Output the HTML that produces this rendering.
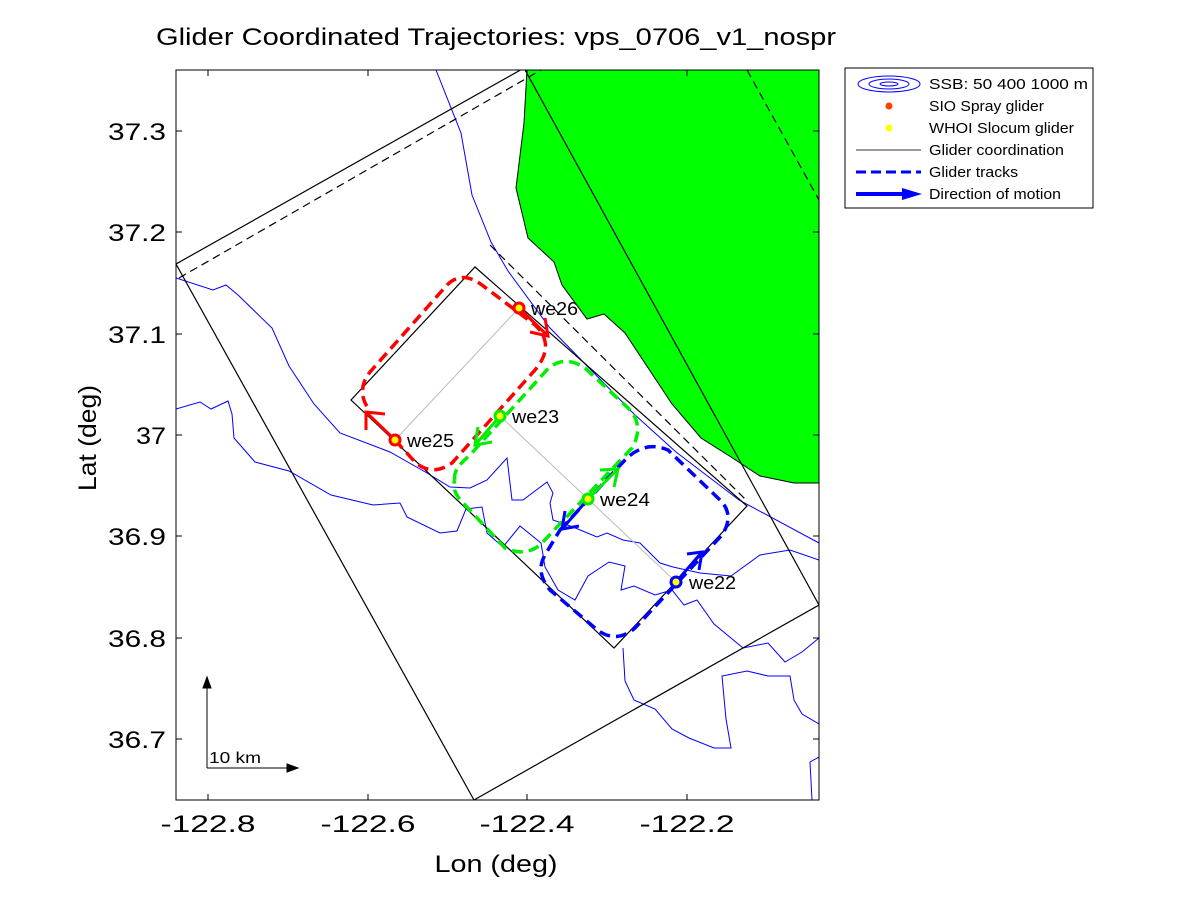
<!DOCTYPE html>
<html><head><meta charset="utf-8"><style>
body{margin:0;background:#fff;}
svg{display:block;font-family:"Liberation Sans",sans-serif;}
</style></head><body>
<svg width="1200" height="900" viewBox="0 0 1200 900" xmlns="http://www.w3.org/2000/svg">
<rect width="1200" height="900" fill="#fff"/>
<defs><clipPath id="c"><rect x="176" y="70" width="643" height="730"/></clipPath></defs>
<g clip-path="url(#c)">
<polygon fill="#00ff00" stroke="#000" stroke-width="1" points="527,70 524,123 516,188 528,238 541,250 554,262 562,285 587,319 604,314 625,333 672,404 701,438 731,457 760,476 794,483 819,483 819,70"/>
<g fill="none" stroke="#0000ff" stroke-width="1">
<polyline points="436,70 461,133 472,195 491,242 508,271 550,328 592,371 634,414 676,452 739,500 819,543"/>
<polyline points="176,278 213,290 226,285 238,295 272,328 289,366 314,404 340,433 390,452 427,473 450,487 470,488 487,480 507,458 512,500 523,500 547,482 553,493 550,503 553,520 573,527 597,537 607,533 623,540 640,543 660,563 673,567 700,573 731,576 760,555 790,550 819,560"/>
<polyline points="176,409 200,402 211,409 228,401 232,414 234,438 255,462 289,471 331,495 373,505 400,503 407,517 440,533 457,531 466,509 482,507 487,533 503,547 520,526 541,543 545,567 558,590 575,600 588,576 609,562 625,566 621,590 634,586 655,595 672,590 684,605 697,600 714,624 743,648 768,643 785,662 802,652 819,638"/>
<polyline points="623,648 625,681 634,700 655,709 672,729 689,738 714,748 731,748 726,719 722,676 747,671 768,676 790,676 794,700 802,714 819,724"/>
<polyline points="819,757 810,762 812,800"/>
</g>
<g fill="none" stroke="#000" stroke-width="1.2">
<polyline points="176,264 524,68 819,605 474,800 176,264"/>
<line x1="179" y1="278" x2="541" y2="70" stroke-dasharray="8,5"/>
<line x1="747" y1="70" x2="819" y2="200" stroke-dasharray="8,5"/>
<polygon points="351,400 475,267 747,506 614,648"/>
<line x1="490" y1="245" x2="745" y2="499" stroke-dasharray="8,5"/>
</g>
</g>
<rect x="176" y="70" width="643" height="730" fill="none" stroke="#000" stroke-width="1"/>
<g stroke="#000" stroke-width="1">
<line x1="208" y1="800" x2="208" y2="794"/><line x1="368" y1="800" x2="368" y2="794"/><line x1="527" y1="800" x2="527" y2="794"/><line x1="687" y1="800" x2="687" y2="794"/>
<line x1="208" y1="70" x2="208" y2="76"/><line x1="368" y1="70" x2="368" y2="76"/><line x1="527" y1="70" x2="527" y2="76"/><line x1="687" y1="70" x2="687" y2="76"/>
<line x1="176" y1="131" x2="182" y2="131"/><line x1="176" y1="232" x2="182" y2="232"/><line x1="176" y1="334" x2="182" y2="334"/><line x1="176" y1="435" x2="182" y2="435"/><line x1="176" y1="536" x2="182" y2="536"/><line x1="176" y1="638" x2="182" y2="638"/><line x1="176" y1="739" x2="182" y2="739"/>
<line x1="819" y1="131" x2="813" y2="131"/><line x1="819" y1="232" x2="813" y2="232"/><line x1="819" y1="334" x2="813" y2="334"/><line x1="819" y1="435" x2="813" y2="435"/><line x1="819" y1="536" x2="813" y2="536"/><line x1="819" y1="638" x2="813" y2="638"/><line x1="819" y1="739" x2="813" y2="739"/>
</g>
<g stroke="#bbb" stroke-width="1"><line x1="395" y1="440" x2="519" y2="308"/><line x1="500" y1="416" x2="676" y2="582"/></g>
<g fill="none" stroke-width="3.5" stroke-dasharray="11,6">
<path stroke="#ff0000" d="M395,440 L415,462 Q432,477 452,463 L535,370 Q556,345 535,325 L482,285 Q462,270 447,285 L370,372 Q356,390 368,408"/>
<path stroke="#00ee00" d="M455,480 Q452,470 470,455 L545,372 Q562,353 585,368 L628,408 Q645,425 632,448 L540,545 Q525,557 505,548 L465,505 Q450,490 455,480"/>
<path stroke="#0000ff" d="M560,530 L625,460 Q645,440 668,450 L720,500 Q735,515 722,535 L635,628 Q615,645 595,628 L550,590 Q535,572 545,555 Z"/>
</g>
<g fill="none" stroke-width="3">
<g stroke="#ff0000"><line x1="519" y1="308" x2="548" y2="336"/><polyline points="530,332 548,336 545,318"/>
<line x1="395" y1="440" x2="366" y2="412"/><polyline points="366,430 366,412 385,414"/></g>
<g stroke="#00ee00"><line x1="500" y1="416" x2="475" y2="445"/><polyline points="478,427 475,445 492,442"/>
<line x1="588" y1="499" x2="618" y2="469"/><polyline points="600,470 618,469 614,487"/></g>
<g stroke="#0000ff"><line x1="588" y1="499" x2="562" y2="529"/><polyline points="565,511 562,529 579,526"/>
<line x1="676" y1="582" x2="702" y2="552"/><polyline points="687,554 702,552 699,570"/></g>
</g>
<g stroke-width="3" fill="#ffff00">
<circle cx="519" cy="308" r="5" stroke="#ff0000"/><circle cx="395" cy="440" r="5" stroke="#ff0000"/>
<circle cx="500" cy="416" r="5" stroke="#00ee00"/><circle cx="588" cy="499" r="5" stroke="#00ee00"/>
<circle cx="676" cy="582" r="5" stroke="#0000ff"/>
</g>
<g font-size="18" fill="#000">
<text x="531" y="315" textLength="47" lengthAdjust="spacingAndGlyphs">we26</text>
<text x="407" y="447" textLength="47" lengthAdjust="spacingAndGlyphs">we25</text>
<text x="512" y="423" textLength="47" lengthAdjust="spacingAndGlyphs">we23</text>
<text x="600" y="506" textLength="50" lengthAdjust="spacingAndGlyphs">we24</text>
<text x="689" y="589" textLength="47" lengthAdjust="spacingAndGlyphs">we22</text>
</g>
<g stroke="#000" stroke-width="1" fill="#000">
<line x1="207" y1="768" x2="207" y2="684"/><polygon points="203,688 211,688 207,677"/>
<line x1="207" y1="768" x2="290" y2="768"/><polygon points="287,764 287,772 298,768"/>
</g>
<text x="209" y="763" font-size="16" textLength="52" lengthAdjust="spacingAndGlyphs">10 km</text>
<g font-size="24" fill="#000" text-anchor="middle">
<text x="208" y="832" textLength="95" lengthAdjust="spacingAndGlyphs">-122.8</text>
<text x="368" y="832" textLength="95" lengthAdjust="spacingAndGlyphs">-122.6</text>
<text x="527" y="832" textLength="95" lengthAdjust="spacingAndGlyphs">-122.4</text>
<text x="687" y="832" textLength="95" lengthAdjust="spacingAndGlyphs">-122.2</text>
<text x="496" y="872" textLength="123" lengthAdjust="spacingAndGlyphs">Lon (deg)</text>
<text x="496" y="45" textLength="680" lengthAdjust="spacingAndGlyphs">Glider Coordinated Trajectories: vps_0706_v1_nospr</text>
</g>
<g font-size="24" fill="#000" text-anchor="end">
<text x="166" y="140" textLength="58" lengthAdjust="spacingAndGlyphs">37.3</text>
<text x="166" y="241" textLength="58" lengthAdjust="spacingAndGlyphs">37.2</text>
<text x="166" y="343" textLength="58" lengthAdjust="spacingAndGlyphs">37.1</text>
<text x="166" y="444" textLength="30" lengthAdjust="spacingAndGlyphs">37</text>
<text x="166" y="545" textLength="58" lengthAdjust="spacingAndGlyphs">36.9</text>
<text x="166" y="647" textLength="58" lengthAdjust="spacingAndGlyphs">36.8</text>
<text x="166" y="748" textLength="58" lengthAdjust="spacingAndGlyphs">36.7</text>
</g>
<text transform="translate(96,438) rotate(-90)" font-size="25" text-anchor="middle" textLength="106" lengthAdjust="spacingAndGlyphs">Lat (deg)</text>
<rect x="845" y="68" width="248" height="140" fill="#fff" stroke="#000" stroke-width="1"/>
<g fill="none" stroke="#0000ff" stroke-width="1"><ellipse cx="889" cy="84" rx="31" ry="8"/><ellipse cx="889" cy="84" rx="20" ry="5"/><ellipse cx="889" cy="84" rx="9" ry="2"/></g>
<circle cx="889" cy="106" r="3.5" fill="#ff4000"/>
<circle cx="889" cy="128" r="3.5" fill="#ffff00"/>
<line x1="856" y1="150" x2="921" y2="150" stroke="#999" stroke-width="2"/>
<line x1="856" y1="172" x2="921" y2="172" stroke="#0000ff" stroke-width="3" stroke-dasharray="10,5"/>
<line x1="856" y1="194" x2="905" y2="194" stroke="#0000ff" stroke-width="4"/><polygon points="902,188 902,200 922,194" fill="#0000ff"/>
<g font-size="15" fill="#000">
<text x="929" y="89" textLength="159" lengthAdjust="spacingAndGlyphs">SSB: 50  400  1000 m</text>
<text x="929" y="111" textLength="115" lengthAdjust="spacingAndGlyphs">SIO Spray glider</text>
<text x="929" y="133" textLength="145" lengthAdjust="spacingAndGlyphs">WHOI Slocum glider</text>
<text x="929" y="155" textLength="135" lengthAdjust="spacingAndGlyphs">Glider coordination</text>
<text x="929" y="177" textLength="89" lengthAdjust="spacingAndGlyphs">Glider tracks</text>
<text x="929" y="199" textLength="132" lengthAdjust="spacingAndGlyphs">Direction of motion</text>
</g>
</svg>
</body></html>
